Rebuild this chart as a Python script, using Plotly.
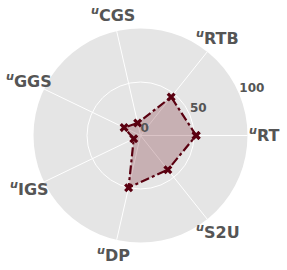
import math
import plotly.graph_objects as go

categories = ["RT", "RTB", "CGS", "GGS", "IGS", "DP", "S2U"]
values = [52, 46, 12, 17, 7, 50, 41]
radial_ticks = [0, 50, 100]

n = len(categories)
angles = [i * 360.0 / n for i in range(n)]
labels = ["<sup><i>u</i></sup>" + c for c in categories]
theta = angles + [angles[0]]
r = values + [values[0]]

W, H = 287, 270
dom_x = [0.1167, 0.8624]
dom_y = [0.1019, 0.8944]

fig = go.Figure()
fig.add_trace(go.Scatterpolar(
    r=r, theta=theta, mode="lines+markers",
    fill="toself", fillcolor="rgba(110,20,30,0.25)",
    line=dict(color="#5a0010", width=2.2, dash="dashdot"),
    marker=dict(symbol="x", size=8, color="#5a0010"),
    showlegend=False, hoverinfo="skip",
))
# radial tick labels
fig.add_trace(go.Scatterpolar(
    r=radial_ticks, theta=[22.5] * len(radial_ticks), mode="text",
    text=[str(v) for v in radial_ticks],
    textposition="top right", cliponaxis=False,
    textfont=dict(size=12, color="#555555", family="DejaVu Sans", weight="bold"),
    showlegend=False, hoverinfo="skip",
))

# category labels just outside the disc
cx = (dom_x[0] + dom_x[1]) / 2
cy = (dom_y[0] + dom_y[1]) / 2
R_px = (dom_x[1] - dom_x[0]) * W / 2
label_r = R_px + 16.5
for a, lab in zip(angles, labels):
    rad = math.radians(a)
    fig.add_annotation(
        x=cx + label_r * math.cos(rad) / W,
        y=cy + label_r * math.sin(rad) / H,
        xref="paper", yref="paper", text=lab, showarrow=False,
        xanchor="center", yanchor="middle", yshift=1,
        font=dict(size=16, color="#555555", family="DejaVu Sans", weight="bold"),
    )

fig.update_layout(
    width=W, height=H,
    margin=dict(l=0, r=0, t=0, b=0),
    paper_bgcolor="white",
    font=dict(family="DejaVu Sans", color="#555555"),
    polar=dict(
        domain=dict(x=dom_x, y=dom_y),
        bgcolor="#e5e5e5",
        angularaxis=dict(
            type="linear", direction="counterclockwise", rotation=0,
            tickvals=angles, showticklabels=False,
            showline=False, gridcolor="white", gridwidth=1, ticks="",
        ),
        radialaxis=dict(
            range=[0, 100], tickvals=radial_ticks, angle=22.5,
            showticklabels=False,
            showline=False, gridcolor="white", gridwidth=1, ticks="",
        ),
    ),
)

fig.write_html("out.html", config={"displayModeBar": False},
               post_script="document.body.style.margin='0';")
